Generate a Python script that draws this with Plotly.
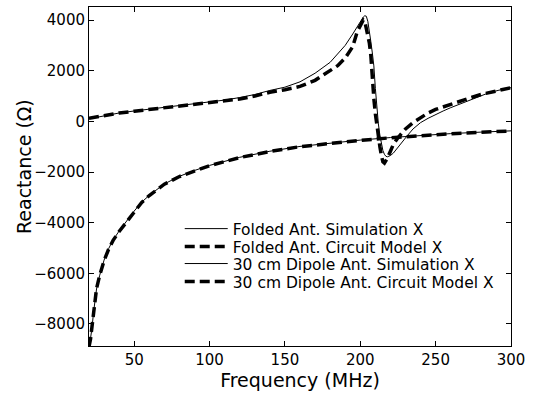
import plotly.graph_objects as go

# Folded antenna
folded_f = [20, 30, 40, 50, 60, 70, 80, 90, 100, 110, 120, 130, 140, 150, 160, 170, 180, 185, 190, 195,
            198, 200, 202, 203, 204, 205, 206, 207, 208, 209, 210, 211, 212, 213, 214, 215, 216, 218, 220,
            222, 225, 230, 235, 240, 245, 250, 260, 270, 280, 290, 300]
folded_model_x = [120, 230, 330, 400, 470, 540, 600, 660, 720, 790, 880, 1000, 1150, 1250, 1380, 1620, 1980,
                  2200, 2500, 2950, 3550, 3800, 4000, 3950, 3700, 3400, 3100, 2600, 1600, 900, 300, -200,
                  -650, -1000, -1350, -1600, -1650, -1450, -1180, -900, -650, -300, -50, 160, 330, 470,
                  680, 870, 1060, 1200, 1330]

folded_sim_f = [20, 30, 40, 50, 60, 70, 80, 90, 100, 110, 120, 130, 140, 150, 160, 170, 180, 185, 190, 195,
                198, 200, 202, 203, 204, 205, 206, 207, 208, 209, 210, 211, 212, 213, 214, 215, 216, 217,
                218, 220, 222, 224, 227, 231, 235, 240, 245, 250, 255, 260, 270, 277, 285, 292, 300]
folded_sim_x = [100, 220, 330, 410, 480, 550, 620, 690, 760, 840, 940, 1060, 1220, 1350, 1560, 1900, 2330,
                2650, 3000, 3450, 3760, 3950, 4120, 4170, 4150, 3950, 3600, 3150, 2700, 2190, 1300, 450,
                -100, -550, -900, -1150, -1300, -1380, -1400, -1350, -1250, -1100, -850, -580, -300, -50,
                120, 280, 410, 540, 780, 950, 1120, 1230, 1330]

# 30 cm dipole antenna
dipole_f = [20, 21, 22, 23, 24, 25, 27, 30, 33, 36, 40, 45, 50, 55, 60, 70, 80, 90, 100, 120, 140, 160,
            180, 200, 220, 240, 260, 280, 300]
dipole_model_x = [-8900, -8600, -8100, -7500, -6950, -6600, -6100, -5500, -5050, -4700, -4350, -3950,
                  -3550, -3200, -2930, -2480, -2180, -1950, -1750, -1430, -1190, -1000, -860, -750, -650,
                  -560, -490, -430, -380]
dipole_sim_x = [-9000, -8650, -8150, -7550, -7000, -6620, -6100, -5480, -5030, -4680, -4330, -3930,
                -3540, -3190, -2920, -2470, -2170, -1940, -1740, -1420, -1180, -990, -850, -740, -640,
                -555, -485, -425, -375]

x_ticks = [50, 100, 150, 200, 250, 300]
y_ticks = [-8000, -6000, -4000, -2000, 0, 2000, 4000]

fig = go.Figure()
fig.add_trace(go.Scatter(x=folded_sim_f, y=folded_sim_x, mode="lines", name="Folded Ant. Simulation X",
                         line=dict(color="black", width=1), legend="legend"))
fig.add_trace(go.Scatter(x=folded_f, y=folded_model_x, mode="lines", name="Folded Ant. Circuit Model X",
                         line=dict(color="black", width=3.5, dash="10px,5px"), legend="legend2"))
fig.add_trace(go.Scatter(x=dipole_f, y=dipole_sim_x, mode="lines", name="30 cm Dipole Ant. Simulation X",
                         line=dict(color="black", width=1), legend="legend3"))
fig.add_trace(go.Scatter(x=dipole_f, y=dipole_model_x, mode="lines", name="30 cm Dipole Ant. Circuit Model X",
                         line=dict(color="black", width=3.5, dash="10px,5px"), legend="legend4"))

axis_common = dict(showline=True, linecolor="black", linewidth=1, mirror="ticks", ticks="inside",
                   ticklen=5, tickcolor="black", showgrid=False, zeroline=False,
                   tickfont=dict(family="DejaVu Sans", size=15, color="black"))


def leg(yc):
    return dict(x=0.215, y=yc, xanchor="left", yanchor="middle", bgcolor="rgba(0,0,0,0)",
                font=dict(size=15.5, family="DejaVu Sans", color="black"), itemwidth=43)


fig.update_layout(
    width=539, height=396,
    margin=dict(l=89, r=28, t=7, b=50),
    paper_bgcolor="white", plot_bgcolor="white",
    font=dict(family="DejaVu Sans", color="black"),
    xaxis=dict(range=[20, 300], tickvals=x_ticks,
               title=dict(text="Frequency (MHz)", font=dict(size=19), standoff=4), **axis_common),
    yaxis=dict(range=[-8870, 4515], tickvals=y_ticks, **axis_common),
    legend=leg(0.345), legend2=leg(0.292), legend3=leg(0.242), legend4=leg(0.189),
    showlegend=True,
    annotations=[dict(text="Reactance (Ω)", textangle=-90, xref="paper", yref="paper",
                      x=-0.154, y=0.528, xanchor="center", yanchor="middle", showarrow=False,
                      font=dict(size=19, family="DejaVu Sans", color="black"))],
)

fig.write_html("out.html")
